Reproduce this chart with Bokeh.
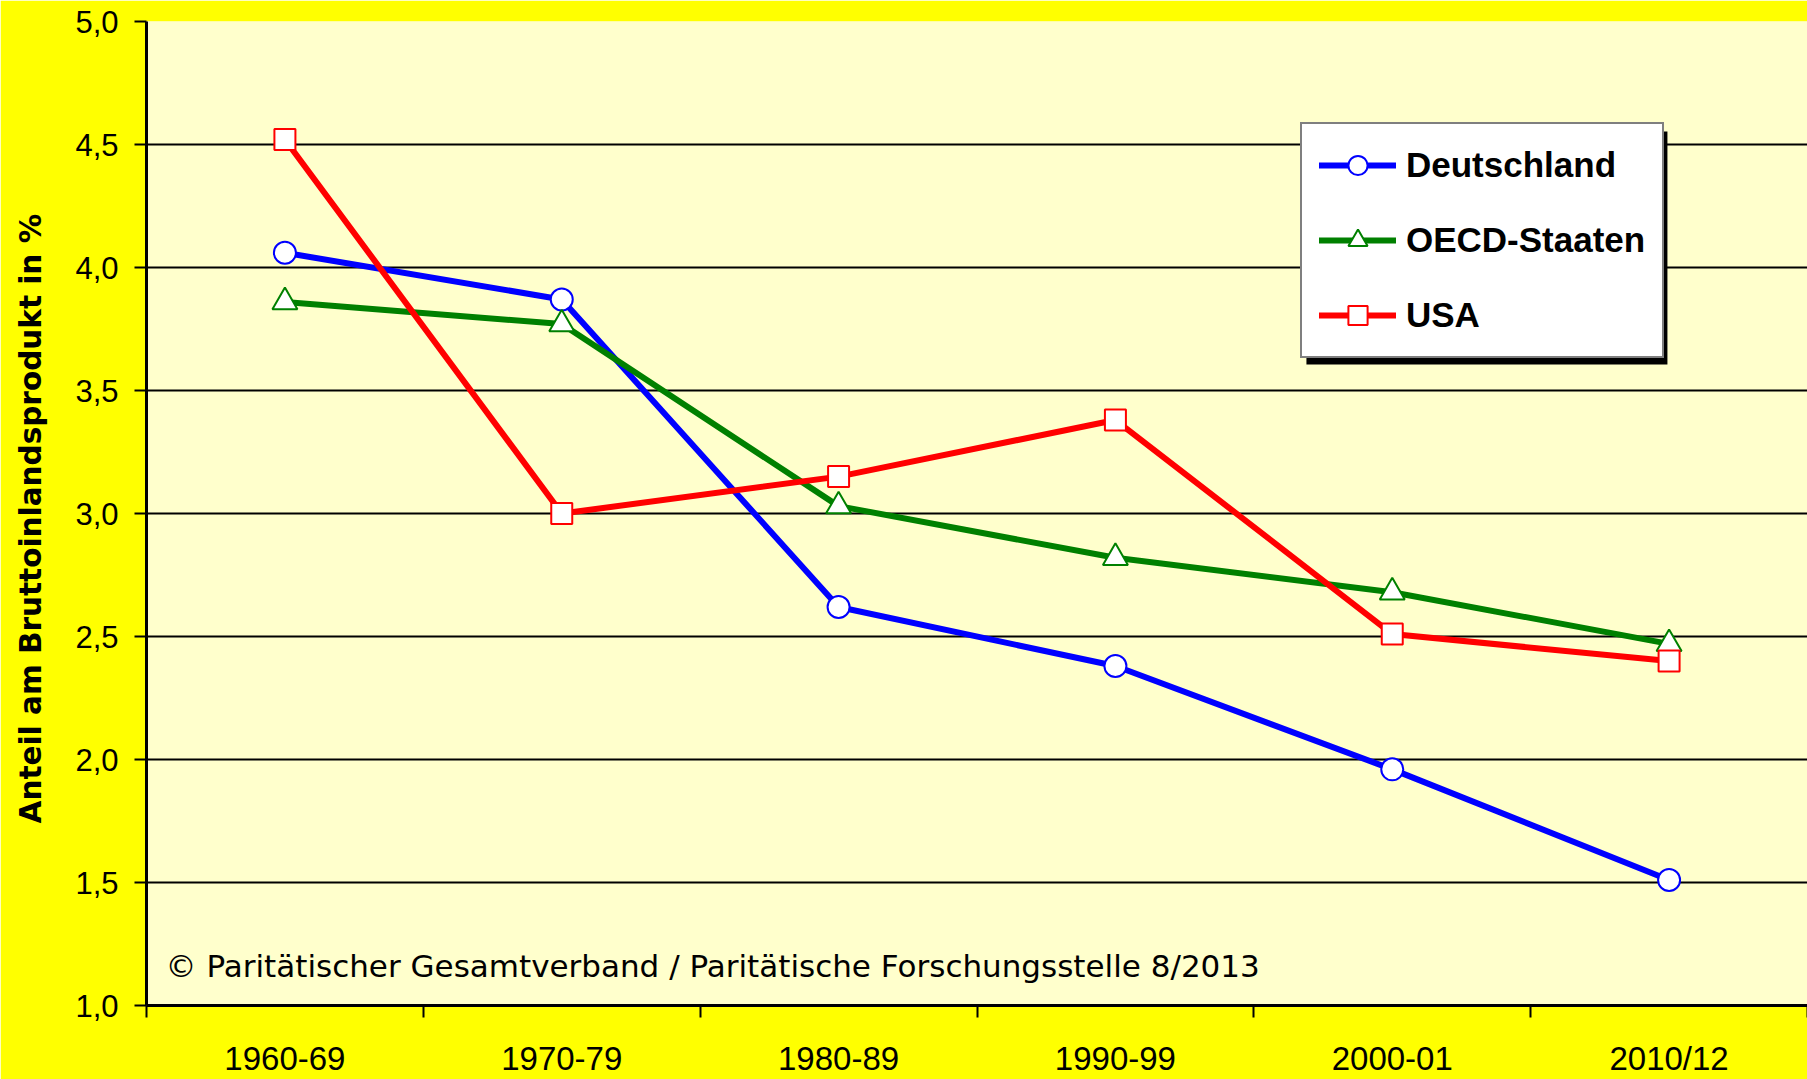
from bokeh.plotting import figure
from bokeh.models import (Range1d, FixedTicker, Legend, LegendItem, BoxAnnotation,
                          Label, CustomJSTickFormatter)
from bokeh.embed import file_html
from bokeh.resources import INLINE

# ---- data ----
categories = ["1960-69", "1970-79", "1980-89", "1990-99", "2000-01", "2010/12"]
deutschland = [4.06, 3.87, 2.62, 2.38, 1.96, 1.51]
oecd = [3.86, 3.77, 3.03, 2.82, 2.68, 2.47]
usa = [4.52, 3.00, 3.15, 3.38, 2.51, 2.40]
y_ticks = [1.0, 1.5, 2.0, 2.5, 3.0, 3.5, 4.0, 4.5, 5.0]
series_names = ["Deutschland", "OECD-Staaten", "USA"]
y_title = "Anteil am Bruttoinlandsprodukt  in %"
credit = "\u00a9 Parit\u00e4tischer Gesamtverband / Parit\u00e4tische Forschungsstelle  8/2013"

xs = [i + 0.5 for i in range(len(categories))]
boundaries = list(range(len(categories) + 1))

p = figure(frame_width=1661, frame_height=984, output_backend="svg", toolbar_location=None,
           x_range=Range1d(0, len(categories)), y_range=Range1d(y_ticks[0], y_ticks[-1]),
           min_border_left=146, min_border_right=0, min_border_top=21, min_border_bottom=74)

p.border_fill_color = "#FFFF00"
p.background_fill_color = "#FFFFCC"
p.outline_line_color = None

# x axis
p.xaxis.ticker = FixedTicker(ticks=xs, minor_ticks=boundaries)
p.xaxis.major_label_overrides = {x: c for x, c in zip(xs, categories)}
p.xaxis.major_tick_out = 0
p.xaxis.major_tick_in = 0
p.xaxis.minor_tick_out = 12
p.xaxis.minor_tick_in = 0
p.xaxis.minor_tick_line_color = "black"
p.xaxis.minor_tick_line_width = 2
p.xaxis.axis_line_color = "black"
p.xaxis.axis_line_width = 3
p.xaxis.major_label_standoff = 22
p.xaxis.major_label_text_font = "Liberation Sans"
p.xaxis.major_label_text_font_size = "33px"
p.xaxis.major_label_text_color = "black"

# y axis
p.yaxis.ticker = FixedTicker(ticks=y_ticks)
p.yaxis.formatter = CustomJSTickFormatter(code="return tick.toFixed(1).replace('.', ',');")
p.yaxis.major_tick_out = 12
p.yaxis.major_tick_in = 0
p.yaxis.major_tick_line_width = 2
p.yaxis.major_tick_line_color = "black"
p.yaxis.minor_tick_line_color = None
p.yaxis.axis_line_color = "black"
p.yaxis.axis_line_width = 3
p.yaxis.major_label_standoff = 16
p.yaxis.major_label_text_font = "Liberation Sans"
p.yaxis.major_label_text_font_size = "31px"
p.yaxis.major_label_text_color = "black"
p.yaxis.axis_label = y_title
p.yaxis.axis_label_text_font = "DejaVu Sans"
p.yaxis.axis_label_text_font_style = "bold"
p.yaxis.axis_label_text_font_size = "29.5px"
p.yaxis.axis_label_text_color = "black"
p.yaxis.axis_label_standoff = 24

p.xgrid.visible = False
p.ygrid.ticker = FixedTicker(ticks=y_ticks)
p.ygrid.grid_line_color = "black"
p.ygrid.grid_line_width = 2

# credit text
p.add_layout(Label(x=0.069, y=1.16, text=credit, text_font="DejaVu Sans",
                   text_font_size="31px", text_color="black", text_baseline="middle"))

# series
colors = ["#0000FF", "#008000", "#FF0000"]
markers = ["circle", "triangle", "square"]
sizes = [22, 25, 21]
items = []
for name, vals, col, mk, sz in zip(series_names, [deutschland, oecd, usa], colors, markers, sizes):
    ln = p.line(xs, vals, line_color=col, line_width=6, line_cap="round")
    sc = p.scatter(xs, vals, marker=mk, size=sz, fill_color="white", line_color=col, line_width=2)
    items.append(LegendItem(label=name, renderers=[ln, sc]))

# legend shadow
p.add_layout(BoxAnnotation(left=4.190, right=5.494, top=4.553, bottom=3.606,
                           fill_color="black", fill_alpha=1.0, line_color=None))

legend = Legend(items=items, location=(1154, 647), orientation="vertical",
                border_line_color="black", border_line_width=2.5,
                background_fill_color="white", background_fill_alpha=1.0,
                label_text_font="Liberation Sans", label_text_font_style="bold",
                label_text_font_size="35px", label_text_color="black",
                glyph_width=77, glyph_height=48, label_height=48,
                spacing=27, padding=17, margin=0, label_standoff=10)
p.add_layout(legend)

open("out.html", "w").write(file_html(p, INLINE))
